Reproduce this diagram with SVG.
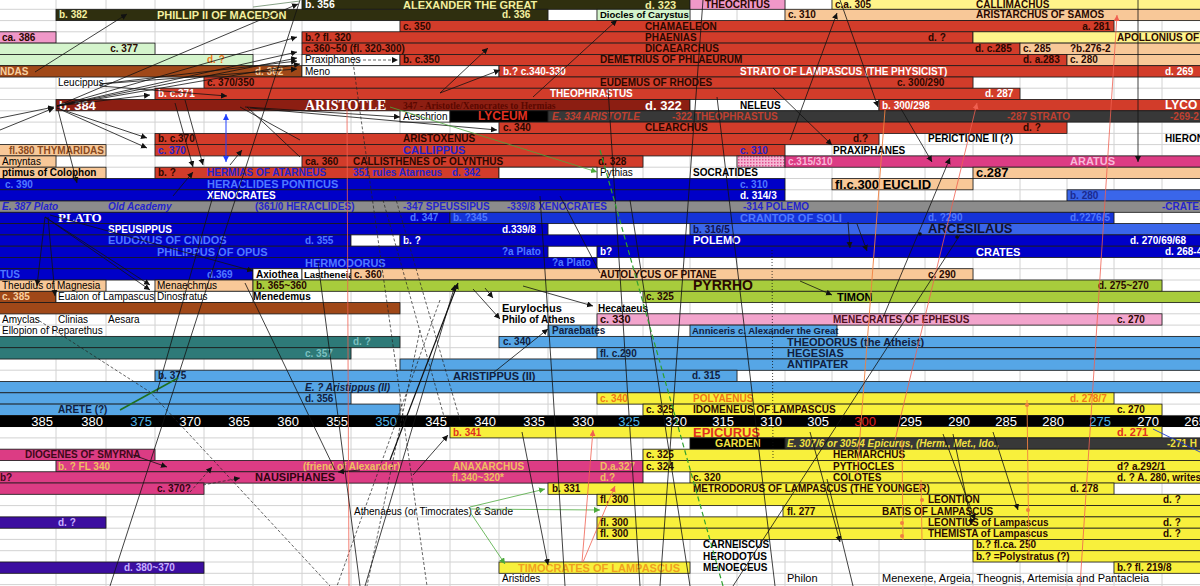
<svg xmlns="http://www.w3.org/2000/svg" width="1200" height="586" viewBox="0 0 1200 586">
<defs>
<style>
text{font-family:"Liberation Sans",Arial,sans-serif;font-weight:bold;font-size:10px;fill:#2a0800}
.grid{stroke:#d2d2d2;stroke-width:1;fill:none}
rect.b{stroke:#1a1a1a;stroke-width:.8}
.ol{fill:#2f2f0f}.rd{fill:#d23c2a}.mr{fill:#8c1e12}.bk{fill:#000}.dg{fill:#383838}
.bl{fill:#0000c8}.bl2{fill:#1432d8}.bl3{fill:#3a66ea}.gy{fill:#8c8c8c}.pc{fill:#f8c898}
.lg{fill:#d4f4cc}.pk{fill:#f098c8}.pk2{fill:#f2a4cc}.mg{fill:#dc3c84}.br{fill:#a04818}
.yg{fill:#a8cc3c}.tl{fill:#2e7a78}.lb{fill:#56a6e6}.ye{fill:#f8f03c}.ly{fill:#fff38a}
.pu{fill:#3c0ea0}.wh{fill:#fff}
.tw{fill:#fff}.tpy{fill:#f4f0a0}.tlb{fill:#5078ff}.tbl{fill:#2424cc}.tr{font-weight:normal;fill:#000}
.tk{fill:#000}.tor{fill:#f07818}.tan{fill:#eec060}.tlp{fill:#c8b0ff}.tpk{fill:#f8b8d8}
.ttl{fill:#7cc0c0}.tpe{fill:#f8d0a0}.tred{fill:#e03020}.tgy{fill:#c04030}.tye{fill:#f0e040}
.it{font-style:italic}.big{font-size:12px}.bg2{font-size:13px}.ser{font-family:"Liberation Serif","Times New Roman",serif}
.ax{font-weight:normal;font-size:13px;fill:#fff;text-anchor:end}
.end{text-anchor:end}
.c{fill:none;stroke:#111;stroke-width:.8}
.ca{fill:none;stroke:#111;stroke-width:.8;marker-end:url(#ah)}
.cd{fill:none;stroke:#222;stroke-width:.7;stroke-dasharray:3 2}
.cg{fill:none;stroke:#4caa3c;stroke-width:.8;marker-end:url(#ag)}
.cr{fill:none;stroke:#f06050;stroke-width:.8}
.co{fill:none;stroke:#f08040;stroke-width:.9}
</style>
<marker id="ah" markerWidth="7" markerHeight="7" refX="6" refY="3" orient="auto" markerUnits="userSpaceOnUse"><path d="M0,0L6,3L0,6z" fill="#111"/></marker>
<marker id="ag" markerWidth="7" markerHeight="7" refX="6" refY="3" orient="auto" markerUnits="userSpaceOnUse"><path d="M0,0L6,3L0,6z" fill="#4caa3c"/></marker>
<marker id="ar" markerWidth="7" markerHeight="7" refX="6" refY="3" orient="auto" markerUnits="userSpaceOnUse"><path d="M0,0L6,3L0,6z" fill="#f06050"/></marker>
<marker id="ab" markerWidth="7" markerHeight="7" refX="6" refY="3" orient="auto-start-reverse" markerUnits="userSpaceOnUse"><path d="M0,0L6,3L0,6z" fill="#2040ff"/></marker>
<pattern id="hatch" width="3" height="3" patternUnits="userSpaceOnUse"><rect width="3" height="3" fill="#f6b8d4"/><rect width="1.5" height="1.5" fill="#e05090"/></pattern>
</defs>
<rect width="1200" height="586" fill="#fff"/>
<path class="grid" d="M0,9.3H1200M0,20.6H1200M0,31.8H1200M0,43.1H1200M0,54.4H1200M0,65.7H1200M0,77H1200M0,88.2H1200M0,99.5H1200M0,110.8H1200M0,122.1H1200M0,133.4H1200M0,144.6H1200M0,155.9H1200M0,167.2H1200M0,178.5H1200M0,189.8H1200M0,201H1200M0,212.3H1200M0,223.6H1200M0,234.9H1200M0,246.2H1200M0,257.4H1200M0,268.7H1200M0,280H1200M0,291.3H1200M0,302.6H1200M0,313.8H1200M0,325.1H1200M0,336.4H1200M0,347.7H1200M0,359H1200M0,370.2H1200M0,381.5H1200M0,392.8H1200M0,404.1H1200M0,415.4H1200M0,426.6H1200M0,437.9H1200M0,449.2H1200M0,460.5H1200M0,471.8H1200M0,483H1200M0,494.3H1200M0,505.6H1200M0,516.9H1200M0,528.2H1200M0,539.4H1200M0,550.7H1200M0,562H1200M0,573.3H1200M0,584.6H1200M56,0V586M106,0V586M155,0V586M204,0V586M253,0V586M302,0V586M351,0V586M400,0V586M450,0V586M499,0V586M548,0V586M597,0V586M643,0V586M690,0V586M737,0V586M785,0V586M832,0V586M879,0V586M925,0V586M973,0V586M1020,0V586M1067,0V586M1114,0V586M1162,0V586"/>

<g id="alexander"><rect class="b ol" x="302" y="-2" width="388" height="11.3"/><text class="tw" x="305" y="8.4" style="font-size:10.5px">b. 356</text><text class="tpy" x="403" y="8.6" style="font-size:11px">ALEXANDER THE GREAT</text><text class="tpy" x="645" y="8.6" style="font-size:11px">d. 323</text></g>
<g id="theocritus"><rect class="b pk" x="690" y="-2" width="95" height="11.3"/><text x="705" y="8">THEOCRITUS</text></g>
<g id="callimachus"><rect class="b ly" x="832" y="-2" width="370" height="11.3"/><text x="835" y="8">c.a. 305</text><text x="976" y="8">CALLIMACHUS</text></g>

<g id="phillip"><rect class="b ol" x="56" y="9.3" width="492" height="11.3"/><text class="tpy" x="59" y="18.3">b. 382</text><text class="tpy" x="157" y="18.5" style="font-size:11px">PHILLIP II OF MACEDON</text><text class="tpy" x="502" y="18.3">d. 336</text></g>
<g id="diocles"><rect class="b lg" x="597" y="9.3" width="93" height="11.3"/><text class="tk" x="600" y="18.3" style="font-size:9.5px">Diocles of Carystus</text></g>
<g id="aristarchus"><rect class="b pc" x="785" y="9.3" width="417" height="11.3"/><text x="788" y="18.3">c. 310</text><text x="976" y="18.3">ARISTARCHUS OF SAMOS</text></g>

<g id="chamaeleon"><rect class="b rd" x="400" y="20.6" width="714" height="11.3"/><text x="403" y="29.6">c. 350</text><text x="645" y="29.6">CHAMAELEON</text><text class="end" x="1110" y="29.6">a. 281</text></g>

<g id="ca386"><rect class="b pk" x="-2" y="31.8" width="58" height="11.3"/><text x="2" y="40.8">ca. 386</text></g>
<g id="phaenias"><rect class="b rd" x="302" y="31.8" width="671" height="11.3"/><text x="305" y="40.8">b.? fl. 320</text><text x="645" y="40.8">PHAENIAS</text><text x="928" y="40.8">d. ?</text></g>
<g id="apollonius"><rect class="b ly" x="973" y="31.8" width="229" height="11.3"/><text x="1117" y="40.8">APOLLONIUS OF</text></g>

<g id="c377"><rect class="b lg" x="-2" y="43.1" width="157" height="11.3"/><text class="end" x="138" y="52.1">c. 377</text></g>
<g id="dicaearchus"><rect class="b rd" x="302" y="43.1" width="718" height="11.3"/><text x="305" y="52.1">c.360~50 (fl. 320-300)</text><text x="645" y="52.1">DICAEARCHUS</text><text x="975" y="52.1">d. c.285</text></g>
<g id="c285"><rect class="b pc" x="1020" y="43.1" width="182" height="11.3"/><text x="1023" y="52.1">c. 285</text><text x="1070" y="52.1">?b.276-2</text></g>

<g id="greend"><rect class="b lg" x="-2" y="54.4" width="255" height="11.3"/><text class="tor" x="207" y="63.4">d. ?</text></g>
<g id="praxiphanes1"><rect class="b wh" x="302" y="54.4" width="98" height="11.3"/><text class="tr" x="305" y="63.4">Praxiphanes</text></g>
<g id="demetrius"><rect class="b rd" x="400" y="54.4" width="667" height="11.3"/><text x="403" y="63.4">b. c.350</text><text x="600" y="63.4">DEMETRIUS OF PHLAEURUM</text><text x="1023" y="63.4">d. a.283</text></g>
<g id="c280"><rect class="b pc" x="1067" y="54.4" width="135" height="11.3"/><text x="1070" y="63.4">c. 280</text></g>

<g id="ndas"><rect class="b br" x="-2" y="65.7" width="304" height="11.3"/><text class="tpe" x="0" y="74.7">NDAS</text><text class="tpe" x="255" y="74.7">d. 362</text></g>
<g id="meno"><rect class="b wh" x="302" y="65.7" width="197" height="11.3"/><text class="tr" x="305" y="74.7">Meno</text></g>
<g id="strato"><rect class="b rd" x="499" y="65.7" width="703" height="11.3"/><text class="tw" x="503" y="74.7">b.? c.340-330</text><text class="tw" x="740" y="74.7">STRATO OF LAMPASCUS (THE PHYSICIST)</text><text class="tw" x="1165" y="74.7">d. 269</text></g>

<g id="leucippus"><text class="tr" x="58" y="86">Leucippus</text></g>
<g id="eudemus"><rect class="b rd" x="204" y="77" width="769" height="11.3"/><text x="207" y="86">c. 370/350</text><text x="600" y="86">EUDEMUS OF RHODES</text><text x="897" y="86">c. 300/290</text></g>

<g id="theophrastus"><rect class="b rd" x="155" y="88.2" width="865" height="11.3"/><text class="tw" x="158" y="97.2">b. c.371</text><text class="tw" x="550" y="97.2">THEOPHRASTUS</text><text class="tw" x="985" y="97.2">d. 287</text></g>

<g id="aristotle"><rect class="b mr" x="56" y="99.5" width="634" height="11.3"/><text class="tw bg2" x="59" y="109.5">b. 384</text><text class="tw ser" x="305" y="110" style="font-size:14px">ARISTOTLE</text><text class="ser" x="403" y="109" style="fill:#5a0800;font-size:9.5px">347 - Aristotle/Xenocrates to Hermias</text><text class="tw bg2" x="645" y="109.5">d. 322</text></g>
<g id="neleus"><rect class="b wh" x="690" y="99.5" width="189" height="11.3"/><text class="tk" x="740" y="108.5">NELEUS</text></g>
<g id="lyco"><rect class="b rd" x="879" y="99.5" width="323" height="11.3"/><text class="tw" x="882" y="108.5">b. 300/298</text><text class="tw big" x="1165" y="109">LYCO</text></g>

<g id="aeschrion"><rect class="b wh" x="400" y="110.8" width="50" height="11.3"/><text class="tr" x="403" y="119.8">Aeschrion</text></g>
<g id="lyceum"><rect class="b bk" x="450" y="110.8" width="98" height="11.3"/><text class="tred big" x="478" y="120.3">LYCEUM</text></g>
<g id="lyceum-heads"><rect class="b dg" x="548" y="110.8" width="654" height="11.3"/><text class="tgy it" x="552" y="119.8">E. 334 ARISTOTLE</text><text class="tgy" x="672" y="119.8">-322 THEOPHRASTUS</text><text class="tgy" x="1007" y="119.8">-287 STRATO</text><text class="tgy" x="1170" y="119.8">-269-2</text></g>

<g id="clearchus"><rect class="b rd" x="499" y="122.1" width="568" height="11.3"/><text x="503" y="131.1">c. 340</text><text x="645" y="131.1">CLEARCHUS</text><text x="1023" y="131.1">d. ?</text></g>

<g id="aristoxenus"><rect class="b rd" x="155" y="133.4" width="724" height="11.3"/><text x="158" y="142.4">b. c.370</text><text x="403" y="142.4">ARISTOXENUS</text><text x="853" y="142.4">d.?</text></g>
<g id="perictione"><text class="tk" x="928" y="142.4">PERICTIONE II (?)</text></g>
<g id="hieron"><text class="tk" x="1165" y="142.4">HIERON</text></g>

<g id="thymaridas"><rect class="b pc" x="-2" y="144.6" width="108" height="11.3"/><text x="9" y="153.6" style="fill:#8a4a20">fl.380 THYMARIDAS</text></g>
<g id="callippus"><rect class="b rd" x="155" y="144.6" width="630" height="11.3"/><text class="tbl" x="158" y="153.6">c. 370</text><text class="tbl" x="403" y="153.6" style="font-size:11px">CALLIPPUS</text><text class="tbl" x="740" y="153.6">c. 310</text></g>
<g id="praxiphanes2"><text class="tk" x="833" y="153.6">PRAXIPHANES</text></g>

<g id="amyntas"><rect class="b pc" x="-2" y="155.9" width="58" height="11.3"/><text class="tr" x="2" y="164.9">Amyntas</text></g>
<g id="callisthenes"><rect class="b rd" x="302" y="155.9" width="341" height="11.3"/><text x="305" y="164.9">ca. 360</text><text x="353" y="164.9">CALLISTHENES OF OLYNTHUS</text><text x="598" y="164.9">d. 328</text></g>
<g id="hatched"><rect class="b" x="737" y="155.9" width="48" height="11.3" fill="url(#hatch)"/></g>
<g id="aratus"><rect class="b mg" x="785" y="155.9" width="417" height="11.3"/><text class="tpk" x="788" y="164.9">c.315/310</text><text class="tpk" x="1070" y="165.3" style="font-size:11px">ARATUS</text></g>

<g id="optimus"><rect class="b pc" x="-2" y="167.2" width="108" height="11.3"/><text class="tk" x="2" y="176.2">ptimus of Colophon</text></g>
<g id="hermias"><rect class="b rd" x="155" y="167.2" width="344" height="11.3"/><text x="158" y="176.2">b. ?</text><text class="tbl" x="207" y="176.2">HERMIAS OF ATARNEUS</text><text class="tbl" x="353" y="176.2">351 rules Atarneus</text><text class="tbl" x="452" y="176.2">d. 342</text></g>
<g id="hermias-box"><rect class="b wh" x="499" y="167.2" width="98" height="11.3"/></g>
<g id="pythias"><text class="tr" x="600" y="176.2">Pythias</text></g>
<g id="socratides"><text class="tk" x="693" y="176.2">SOCRATIDES</text></g>
<g id="c287"><rect class="b pc" x="973" y="167.2" width="229" height="11.3"/><text class="tk bg2" x="976" y="177">c.287</text></g>

<g id="heraclides"><rect class="b bl" x="-2" y="178.5" width="787" height="11.3"/><text class="tlb" x="5" y="187.5">c. 390</text><text class="tlb" x="207" y="187.8" style="font-size:11px">HERACLIDES PONTICUS</text><text class="tlb" x="740" y="187.5">c. 310</text></g>
<g id="euclid"><rect class="b pc" x="832" y="178.5" width="141" height="11.3"/><text class="tk bg2" x="835" y="188.5">fl.c.300  EUCLID</text></g>

<g id="xenocrates"><rect class="b bl" x="-2" y="189.8" width="787" height="11.3"/><text class="tw" x="207" y="198.8">XENOCRATES</text><text class="tw" x="740" y="198.8">d. 314/3</text></g>
<g id="b280"><rect class="b bl3" x="1067" y="189.8" width="135" height="11.3"/><text class="tlb" x="1070" y="198.8" style="fill:#1a2a90">b. 280</text></g>

<g id="academy"><rect class="b gy" x="-2" y="201" width="1204" height="11.3"/><text class="tbl it" x="2" y="210">E. 387 Plato</text><text class="tbl it" x="108" y="210">Old Academy</text><text class="tbl" x="255" y="210">(361/0 HERACLIDES)</text><text class="tbl" x="403" y="210">-347 SPEUSSIPUS</text><text class="tbl" x="507" y="210">-339/8 XENOCRATES</text><text class="tbl" x="743" y="210">-314 POLEMO</text><text class="tbl" x="1162" y="210">-CRATES</text></g>

<g id="plato"><rect class="b bl" x="-2" y="212.3" width="452" height="11.3"/><text class="tw ser bg2" x="58" y="222">PLATO</text><text class="tlb" x="410" y="221.3">d. 347</text></g>
<g id="crantor"><rect class="b bl2" x="450" y="212.3" width="664" height="11.3"/><text class="tlb" x="453" y="221.3">b. ?345</text><text class="tlb" x="740" y="221.5" style="font-size:11px">CRANTOR OF SOLI</text><text class="tlb" x="928" y="221.3">d. ?290</text><text class="tlb" x="1070" y="221.3">d.?276/5</text></g>

<g id="speusippus"><rect class="b bl" x="-2" y="223.6" width="550" height="11.3"/><text class="tw" x="108" y="232.6">SPEUSIPPUS</text><text class="tw" x="502" y="232.6">d.339/8</text></g>
<g id="arcesilaus"><rect class="b bl3" x="690" y="223.6" width="512" height="11.3"/><text x="693" y="232.6" style="fill:#101050">b. 316/5</text><text class="bg2" x="928" y="233.3" style="fill:#101030">ARCESILAUS</text></g>

<g id="eudoxus"><rect class="b bl" x="-2" y="234.9" width="353" height="11.3"/><text class="tlb" x="108" y="243.9" style="font-size:11px">EUDOXUS OF CNIDOS</text><text class="tlb" x="305" y="243.9">d. 355</text></g>
<g id="eudoxus-box"><rect class="b wh" x="351" y="234.9" width="49" height="11.3"/></g>
<g id="polemo"><rect class="b bl" x="400" y="234.9" width="802" height="11.3"/><text class="tw" x="403" y="243.9">b. ?</text><text class="tw" x="693" y="244.2" style="font-size:11px">POLEMO</text><text class="tw" x="1130" y="243.9">d. 270/69/68</text></g>

<g id="philippus"><rect class="b bl" x="-2" y="246.2" width="550" height="11.3"/><text class="tlb" x="157" y="255.5" style="font-size:11px">PHILIPPUS OF OPUS</text><text class="tlb" x="502" y="255.2">?a Plato</text></g>
<g id="crates"><rect class="b bl" x="597" y="246.2" width="605" height="11.3"/><text class="tw" x="600" y="255.2">b?</text><text class="tw" x="976" y="255.5" style="font-size:11px">CRATES</text><text class="tw" x="1165" y="255.2">d. 268-4</text></g>

<g id="hermodorus"><rect class="b bl" x="-2" y="257.4" width="599" height="11.3"/><text class="tlb" x="305" y="266.7" style="font-size:11px">HERMODORUS</text><text class="tlb" x="552" y="266.4">?a Plato</text></g>

<g id="tus"><rect class="b bl" x="-2" y="268.7" width="255" height="11.3"/><text class="tlb" x="0" y="277.7">TUS</text><text class="tlb" x="207" y="277.7">d.369</text></g>
<g id="axiothea"><rect class="b wh" x="253" y="268.7" width="49" height="11.3"/><text class="tk" x="256" y="277.7">Axiothea</text></g>
<g id="lastheneia"><rect class="b wh" x="302" y="268.7" width="49" height="11.3"/><text class="tk" x="304" y="277.7" style="font-size:9.5px">Lastheneia</text></g>
<g id="autolycus"><rect class="b pc" x="351" y="268.7" width="622" height="11.3"/><text x="354" y="277.7">c. 360</text><text x="600" y="277.7">AUTOLYCUS OF PITANE</text><text x="928" y="277.7">c. 290</text></g>

<g id="theudius"><rect class="b pc" x="-2" y="280" width="108" height="11.3"/><text class="tr" x="2" y="289">Theudius of Magnesia</text></g>
<g id="menaechmus"><rect class="b pc" x="155" y="280" width="98" height="11.3"/><text class="tr" x="157" y="289">Menaechmus</text></g>
<g id="pyrrho"><rect class="b yg" x="253" y="280" width="909" height="11.3"/><text x="256" y="289">b. 365~360</text><text class="bg2" x="693" y="290" style="font-size:14px">PYRRHO</text><text x="1098" y="289">d. 275~270</text></g>

<g id="c385"><rect class="b br" x="-2" y="291.3" width="58" height="11.3"/><text class="tpe" x="2" y="300.3">c. 385</text></g>
<g id="euaion"><rect class="b wh" x="56" y="291.3" width="99" height="11.3"/><text class="tr" x="58" y="300.3">Euaion of Lampascus</text></g>
<g id="dinostratus"><rect class="b wh" x="155" y="291.3" width="98" height="11.3"/><text class="tr" x="157" y="300.3">Dinostratus</text></g>
<g id="menedemus"><text class="tk" x="253" y="300.3">Menedemus</text></g>
<g id="timon"><rect class="b yg" x="643" y="291.3" width="559" height="11.3"/><text x="646" y="300.3">c. 325</text><text class="tk" x="837" y="300.8" style="font-size:11px">TIMON</text></g>

<g id="brownbar"><rect class="b br" x="-2" y="302.6" width="402" height="11.3"/></g>
<g id="eurylochus"><text class="tk" x="502" y="312" style="font-size:11px">Eurylochus</text></g>
<g id="hecataeus"><text class="tk" x="598" y="311.6">Hecataeus</text></g>

<g id="amyclas"><text class="tr" x="2" y="322.8">Amyclas</text></g>
<g id="clinias"><text class="tr" x="58" y="322.8">Clinias</text></g>
<g id="aesara"><text class="tr" x="108" y="322.8">Aesara</text></g>
<g id="philo"><text class="tk" x="502" y="322.8">Philo of Athens</text></g>
<g id="menecrates"><rect class="b pk2" x="597" y="313.8" width="565" height="11.3"/><text x="600" y="323.3" style="font-size:11px">c. 330</text><text x="833" y="322.8" style="fill:#501020">MENECRATES OF EPHESUS</text><text x="1117" y="322.8">c. 270</text></g>

<g id="ellopion"><text class="tr" x="2" y="334.1">Ellopion of Peparethus</text></g>
<g id="paraebates"><rect class="b lb" x="548" y="325.1" width="49" height="11.3"/><text x="552" y="334.1" style="fill:#102040">Paraebates</text></g>
<g id="anniceris"><rect class="b lb" x="690" y="325.1" width="147" height="11.3"/><text x="692" y="334.1" style="fill:#102040;font-size:9.5px">Anniceris c. Alexander the Great</text></g>

<g id="teal1"><rect class="b tl" x="-2" y="336.4" width="402" height="11.3"/><text class="ttl" x="353" y="345.4">d. ?</text></g>
<g id="theodorus"><rect class="b lb" x="499" y="336.4" width="703" height="11.3"/><text x="503" y="345.4" style="fill:#102040">c. 340</text><text x="787" y="345.8" style="fill:#102040;font-size:11px">THEODORUS (the Atheist)</text></g>

<g id="teal2"><rect class="b tl" x="-2" y="347.7" width="353" height="11.3"/><text class="ttl" x="305" y="356.7">c. 357</text></g>
<g id="hegesias"><rect class="b lb" x="597" y="347.7" width="605" height="11.3"/><text x="600" y="356.7" style="fill:#102040">fl. c.290</text><text x="787" y="357" style="fill:#102040;font-size:11px">HEGESIAS</text></g>

<g id="antipater"><rect class="b lb" x="400" y="359" width="802" height="11.3"/><text x="787" y="368.3" style="fill:#102040;font-size:11px">ANTIPATER</text></g>

<g id="aristippus2"><rect class="b lb" x="155" y="370.2" width="582" height="11.3"/><text x="158" y="379.2" style="fill:#102040">b. 375</text><text x="453" y="379.5" style="fill:#102040;font-size:11px">ARISTIPPUS (II)</text><text x="692" y="379.2" style="fill:#102040">d. 315</text></g>

<g id="cyrenaic"><rect class="b lb" x="-2" y="381.5" width="1204" height="11.3"/><text class="it" x="305" y="390.5" style="fill:#102040">E. ? Aristippus (II)</text></g>

<g id="d356"><rect class="b lb" x="-2" y="392.8" width="353" height="11.3"/><text x="305" y="401.8" style="fill:#102040">d. 356</text></g>
<g id="polyaenus"><rect class="b ye" x="597" y="392.8" width="517" height="11.3"/><text class="tor" x="600" y="401.8">c. 340</text><text class="tor" x="693" y="401.8">POLYAENUS</text><text class="tor" x="1070" y="401.8">d. 278/7</text></g>

<g id="arete"><rect class="b lb" x="-2" y="404.1" width="402" height="11.3"/><text x="58" y="413.1" style="fill:#102040">ARETE (?)</text></g>
<g id="idomeneus"><rect class="b ye" x="643" y="404.1" width="519" height="11.3"/><text x="646" y="413.1">c. 325</text><text x="693" y="413.1">IDOMENEUS OF LAMPASCUS</text><text x="1117" y="413.1">c. 270</text></g>

<g id="axis"><rect x="0" y="415.4" width="1200" height="11.6" fill="#000"/>
<text class="ax" x="53" y="425.6">385</text><text class="ax" x="103" y="425.6">380</text><text class="ax" x="152" y="425.6" style="fill:#50b4e8">375</text><text class="ax" x="201" y="425.6">370</text><text class="ax" x="250" y="425.6">365</text><text class="ax" x="299" y="425.6">360</text><text class="ax" x="348" y="425.6">355</text><text class="ax" x="397" y="425.6" style="fill:#50b4e8">350</text><text class="ax" x="447" y="425.6">345</text><text class="ax" x="496" y="425.6">340</text><text class="ax" x="545" y="425.6">335</text><text class="ax" x="594" y="425.6">330</text><text class="ax" x="640" y="425.6" style="fill:#50b4e8">325</text><text class="ax" x="687" y="425.6">320</text><text class="ax" x="734" y="425.6">315</text><text class="ax" x="782" y="425.6">310</text><text class="ax" x="829" y="425.6">305</text><text class="ax" x="876" y="425.6" style="fill:#e02020">300</text><text class="ax" x="922" y="425.6">295</text><text class="ax" x="970" y="425.6">290</text><text class="ax" x="1017" y="425.6">285</text><text class="ax" x="1064" y="425.6">280</text><text class="ax" x="1111" y="425.6" style="fill:#50b4e8">275</text><text class="ax" x="1159" y="425.6">270</text><text class="ax" x="1206" y="425.6">265</text></g>

<g id="epicurus"><rect class="b ye" x="450" y="426.6" width="712" height="11.3"/><text class="tred" x="453" y="435.6">b. 341</text><text class="tred" x="693" y="437.4" style="font-size:13px">EPICURUS</text><text class="tred" x="1117" y="435.8" style="font-size:11px">d. 271</text></g>

<g id="garden"><rect class="b bk" x="690" y="437.9" width="95" height="11.3"/><text class="tye" x="715" y="447.4" style="font-size:10.5px">GARDEN</text></g>
<g id="garden-heads"><rect class="b dg" x="785" y="437.9" width="417" height="11.3"/><text class="tye it" x="787" y="447">E. 307/6 or 305/4 Epicurus, (Herm., Met., Ido.,</text><text class="tye" x="1167" y="447">-271 H</text></g>

<g id="diogenes"><rect class="b mg" x="-2" y="449.2" width="157" height="11.3"/><text x="25" y="458.2" style="fill:#400818">DIOGENES OF SMYRNA</text></g>
<g id="hermarchus"><rect class="b ye" x="643" y="449.2" width="559" height="11.3"/><text x="646" y="458.2">c. 325</text><text x="833" y="458.2">HERMARCHUS</text></g>

<g id="anaxarchus"><rect class="b mg" x="56" y="460.5" width="587" height="11.3"/><text class="tan" x="58" y="469.5">b. ? FL 340</text><text class="tan" x="303" y="469.5">(friend of Alexander)</text><text class="tan" x="453" y="469.5">ANAXARCHUS</text><text class="tan" x="600" y="469.5">D.a.327</text></g>
<g id="pythocles"><rect class="b ye" x="643" y="460.5" width="559" height="11.3"/><text x="646" y="469.5">c. 324</text><text x="833" y="469.5">PYTHOCLES</text><text x="1117" y="469.5">d? a.292/1</text></g>

<g id="nausiphanes"><rect class="b mg" x="-2" y="471.8" width="645" height="11.3"/><text x="0" y="480.8" style="fill:#400818">b?</text><text x="255" y="481.2" style="fill:#300410;font-size:11px">NAUSIPHANES</text><text class="tan" x="452" y="480.8">fl.340~320*</text><text class="tan" x="600" y="480.8">d.?</text></g>
<g id="colotes"><rect class="b ye" x="690" y="471.8" width="512" height="11.3"/><text x="693" y="480.8">c. 320</text><text x="833" y="480.8">COLOTES</text><text x="1117" y="480.8">d. ? A. 280, writes</text></g>

<g id="c370q"><rect class="b mg" x="-2" y="483" width="206" height="11.3"/><text x="157" y="492" style="fill:#300410">c. 370?</text></g>
<g id="metrodorus"><rect class="b ye" x="548" y="483" width="566" height="11.3"/><text x="552" y="492">b. 331</text><text x="693" y="492">METRODORUS OF LAMPASCUS (THE YOUNGER)</text><text x="1070" y="492">d. 278</text></g>

<g id="leontion"><rect class="b ye" x="597" y="494.3" width="605" height="11.3"/><text x="600" y="503.3">fl. 300</text><text x="928" y="503.3">LEONTION</text><text x="1163" y="503.3">d. ?</text></g>

<g id="athenaeus"><text class="tr" x="354" y="514.6">Athenaeus (or Timocrates) &amp; Sande</text></g>
<g id="batis"><rect class="b ye" x="783" y="505.6" width="419" height="11.3"/><text x="787" y="514.6">fl. 277</text><text x="882" y="514.6">BATIS OF LAMPASCUS</text></g>

<g id="purple1"><rect class="b pu" x="-2" y="516.9" width="108" height="11.3"/><text class="tlp" x="58" y="525.9">d. ?</text></g>
<g id="leontius"><rect class="b ye" x="597" y="516.9" width="605" height="11.3"/><text x="600" y="525.9">fl. 300</text><text x="928" y="525.9">LEONTIUS of Lampascus</text><text x="1163" y="525.9">d. ?</text></g>

<g id="themista"><rect class="b ye" x="597" y="528.2" width="605" height="11.3"/><text x="600" y="537.2">fl. 300</text><text x="928" y="537.2">THEMISTA of Lampascus</text><text x="1163" y="537.2">d. ?</text></g>

<g id="carneiscus"><text class="tk" x="703" y="548.4">CARNEISCUS</text></g>
<g id="flca250"><rect class="b ye" x="973" y="539.4" width="229" height="11.3"/><text x="976" y="548.4">b.? fl.ca. 250</text></g>

<g id="herodotus"><text class="tk" x="703" y="559.7">HERODOTUS</text></g>
<g id="polystratus"><rect class="b ye" x="973" y="550.7" width="229" height="11.3"/><text x="976" y="559.7">b.? =Polystratus (?)</text></g>

<g id="purple2"><rect class="b pu" x="-2" y="562" width="206" height="11.3"/><text class="tlp" x="124" y="571">d. 380~370</text></g>
<g id="timocrates"><rect class="b ye" x="499" y="562" width="191" height="11.3"/><text x="518" y="571.5" style="fill:#f0a020;font-size:11px">TIMOCRATES OF LAMPASCUS</text></g>
<g id="menoeceus"><text class="tk" x="703" y="571">MENOECEUS</text></g>
<g id="fl2198"><rect class="b ye" x="1114" y="562" width="88" height="11.3"/><text x="1117" y="571">b.? fl. 219/8</text></g>

<g id="aristides"><text class="tr" x="502" y="582.3">Aristides</text></g>
<g id="philon"><text class="tr" x="787" y="582.3" style="font-size:11px">Philon</text></g>
<g id="menexene"><text class="tr" x="882" y="582.3" style="font-size:11px">Menexene, Argeia, Theognis, Artemisia and Pantacleia</text></g>

<g id="connectors">
<path class="ca" d="M35,72L127,14"/>
<path class="ca" d="M57,106L298,4"/>
<path class="ca" d="M57,106L297,37"/>
<path class="ca" d="M57,106L297,52"/>
<path class="ca" d="M57,106L297,58"/>
<path class="ca" d="M57,106L300,64"/>
<path class="ca" d="M57,106L150,95"/>
<path class="ca" d="M100,84L297,61"/>
<path class="ca" d="M100,84L297,69"/>
<path class="ca" d="M100,86L227,96"/>
<path class="ca" d="M57,108L147,138"/>
<path class="ca" d="M57,108L147,148"/>
<path class="ca" d="M58,110L77,183"/>
<path class="ca" d="M0,130L54,108"/>
<path class="ca" d="M0,118L54,107"/>
<path class="ca" d="M175,103L193,167"/>
<path class="ca" d="M185,100L203,165"/>
<path class="ca" d="M230,165L242,150"/>
<path class="ca" d="M173,196L193,172"/>
<path class="c" d="M300,0L110,586"/>
<path class="ca" d="M245,107L400,117"/>
<path class="ca" d="M250,108L497,130"/>
<path class="c" d="M240,107L300,140"/>
<path class="c" d="M247,107L300,157"/>
<path class="c" d="M253,7L300,1" style="stroke:#6a8a6a"/>
<path class="cd" d="M353,60L398,60" style="marker-end:url(#ah)"/>
<path class="ca" d="M440,93L488,48"/>
<path class="ca" d="M440,93L500,70"/>
<path class="ca" d="M533,97L617,20"/>
<path class="cd" d="M353,62L427,586"/>
<path class="cd" d="M383,200L445,420"/>
<path class="cd" d="M395,196L460,420"/>
<path class="cd" d="M440,300L337,586"/>
<path class="cd" d="M420,330L367,586"/>
<path class="cg" d="M390,107L597,172"/>
<path class="cr" d="M347,108L349,586"/>
<path class="c" d="M608,88L640,586"/>
<path class="c" d="M703,0L660,586"/>
<path class="c" d="M717,97L775,586"/>
<path class="c" d="M630,200L690,586"/>
<path class="ca" d="M773,88L832,145"/>
<path class="ca" d="M790,140L837,13"/>
<path class="ca" d="M840,0L878,107"/>
<path class="cr" d="M1080,586L1117,15" style="marker-end:url(#ar)"/>
<path class="cr" d="M895,440L977,103" style="marker-end:url(#ar)"/>
<path class="co" d="M885,110L857,475"/>
<path class="ca" d="M900,107L932,162"/>
<path class="ca" d="M882,320L950,158"/>
<path class="ca" d="M1138,0L1138,162"/>
<path class="c" d="M960,235L733,586"/>
<circle cx="957" cy="237" r="1.8" fill="#111"/><circle cx="920" cy="234" r="1.8" fill="#111"/>
<path class="ca" d="M800,281L832,295"/>
<path class="ca" d="M848,222L850,248"/>
<path class="ca" d="M857,224L867,251"/>
<path class="ca" d="M473,289L500,319"/>
<path class="ca" d="M485,288L493,298"/>
<path class="ca" d="M523,286L593,306"/>
<path class="ca" d="M493,373L548,329"/>
<path class="ca" d="M390,460L458,283" style="stroke-width:1.2"/>
<path class="ca" d="M365,586L455,285"/>
<path class="c" d="M318,262L360,586"/>
<path class="c" d="M245,283L335,470"/>
<path class="cd" d="M600,150L723,586" style="stroke:#30a030;stroke-width:1.2;stroke-dasharray:5 3"/>
<path class="c" d="M772,250L773,460" style="stroke-dasharray:1 2"/>
<path class="ca" d="M810,432L840,542"/>
<path class="c" d="M827,479L853,586"/>
<path class="ca" d="M943,434L975,520"/>
<path class="ca" d="M953,434L972,525"/>
<path class="ca" d="M993,432L1018,510"/>
<path class="co" d="M1027,400L1029,560"/>
<circle cx="1027" cy="405" r="2" fill="#f08040"/><circle cx="1028" cy="510" r="2" fill="#f08040"/>
<path class="co" d="M902,440L903,540M921,480L922,540"/>
<circle cx="921" cy="487" r="2" fill="#f08040"/><circle cx="922" cy="500" r="2" fill="#f08040"/><circle cx="902" cy="523" r="2" fill="#f08040"/><circle cx="902" cy="536" r="2" fill="#f08040"/>
<path d="M1153,429L1200,452" fill="none" stroke="#2040d0" stroke-width=".9"/>
<path class="ca" d="M413,475L448,435"/>
<path class="ca" d="M360,470L338,472"/>
<path class="cg" d="M470,507L545,489"/>
<path class="cg" d="M470,509L600,510"/>
<path class="cg" d="M470,512L505,564"/>
<path class="ca" d="M522,432L548,565"/>
<path class="c" d="M553,392L565,586"/>
<path class="cr" d="M582,562L593,430" style="marker-end:url(#ar)"/>
<path class="cr" d="M583,562L615,486" style="marker-end:url(#ar)"/>
<path class="ca" d="M133,455L167,467"/>
<path class="cd" d="M203,485L240,478" style="marker-end:url(#ah)"/>
<path class="cd" d="M190,492L212,467" style="marker-end:url(#ah)"/>
<path class="cd" d="M35,318L150,392L330,586"/>
<path d="M120,410L178,378" fill="none" stroke="#207020" stroke-width="1.5"/>
<path class="ca" d="M45,217L150,285"/>
<path class="ca" d="M45,217L150,290"/>
<path class="ca" d="M45,217L37,286"/>
<path class="ca" d="M48,217L55,296"/>
<path class="ca" d="M50,215L253,271"/>
<path class="c" d="M213,196L157,392"/>
<path class="c" d="M540,196L553,392"/>
<path class="c" d="M560,196L600,273"/>
<path d="M226,114L226,162" fill="none" stroke="#2040ff" stroke-width="1" marker-start="url(#ab)" marker-end="url(#ab)"/>
</g>
</svg>
